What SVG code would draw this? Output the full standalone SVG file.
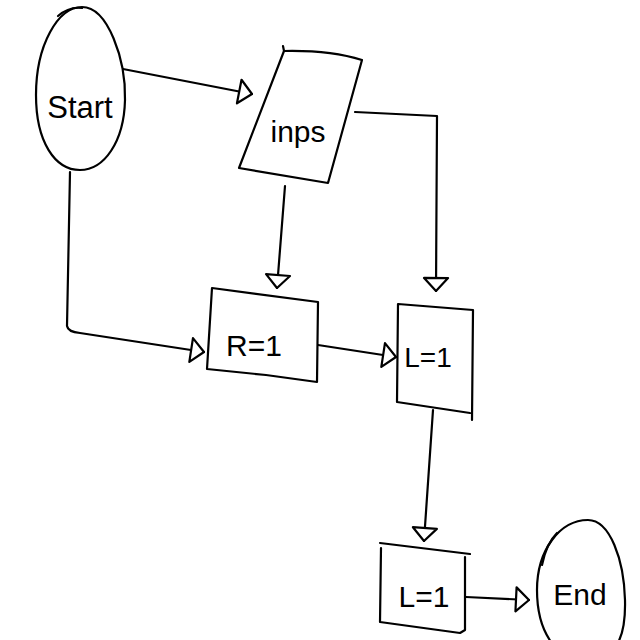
<svg xmlns="http://www.w3.org/2000/svg" width="640" height="640" viewBox="0 0 640 640">
<defs>
<style>
.s{fill:none;stroke:#000;stroke-width:2.2;stroke-linecap:round;stroke-linejoin:round}
.t{font-family:"Liberation Sans","DejaVu Sans",sans-serif;fill:#000;text-anchor:middle}
</style>
<marker id="ah" viewBox="0 0 16 28" refX="15" refY="14" markerWidth="16" markerHeight="28" markerUnits="userSpaceOnUse" orient="auto">
<path d="M2,2 L15,14 L2,26 Z" fill="#fff" stroke="#000" stroke-width="2.2" stroke-linejoin="round"/>
</marker>
</defs>
<rect width="640" height="640" fill="#fff"/>
<g id="connectors">
<path class="s" d="M123,69 L252,94" marker-end="url(#ah)"/>
<path class="s" d="M355,112 L437,116 L436,291" marker-end="url(#ah)"/>
<path class="s" d="M285,186 L277,288" marker-end="url(#ah)"/>
<path class="s" d="M70,172 L67,326 Q68,332 80,333 L204,352" marker-end="url(#ah)"/>
<path class="s" d="M318,345 L396,357" marker-end="url(#ah)"/>
<path class="s" d="M433,410 L424,541" marker-end="url(#ah)"/>
<path class="s" d="M466,597 L529,600" marker-end="url(#ah)"/>
</g>
<g id="start">
<path class="s" d="M82,7 C108,7 126,60 125,100 C124,142 104,170 80,170 C55,170 36,142 36,95 C36,45 58,7 82,7 Z"/>
<path class="s" d="M58,16 C66,9 74,7 82,8"/>
<text class="t" x="80" y="118" font-size="31">Start</text>
</g>
<g id="inps">
<path class="s" d="M283,46 L284,51 Q330,50 362,60 L328,183 L239,168 L284,51"/>
<text class="t" x="298" y="142" font-size="30">inps</text>
</g>
<g id="r1">
<path class="s" d="M212,288 L318,302 L317,382 L266,375 L207,369 L212,288"/>
<text class="t" x="254" y="356" font-size="30">R=1</text>
</g>
<g id="l1">
<path class="s" d="M398,304 L473,310 L472,420 M398,304 L397,402 L470,413"/>
<text class="t" x="428" y="367" font-size="28">L=1</text>
</g>
<g id="l2">
<path class="s" d="M380,543 L470,554 M381,548 L380,622 L460,633 L465,630 L465,557"/>
<text class="t" x="424" y="607" font-size="30">L=1</text>
</g>
<g id="end">
<path class="s" d="M588,520 C610,520 624,560 625,600 C626,640 615,660 585,660 C555,660 537,630 537,590 C537,550 560,520 588,520 Z"/>
<path class="s" d="M542,565 C545,550 550,540 557,533"/>
<text class="t" x="580" y="605" font-size="30">End</text>
</g>
</svg>
